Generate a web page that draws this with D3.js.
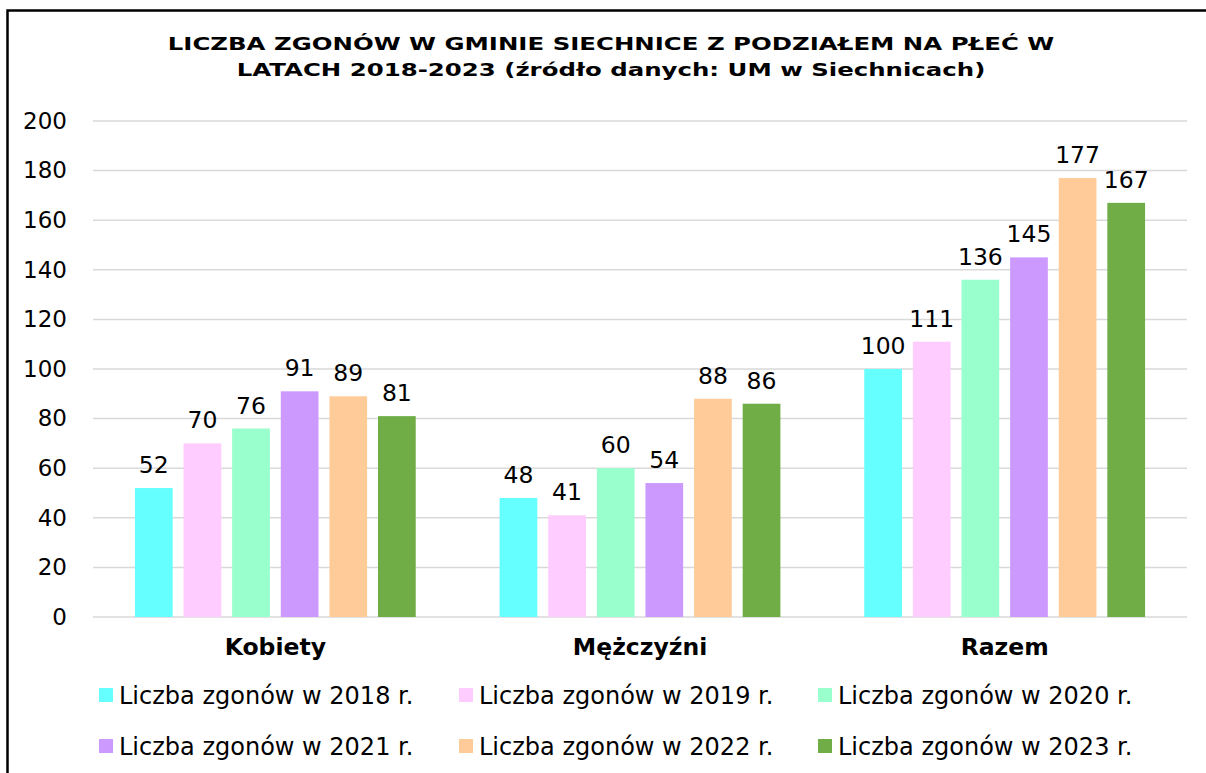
<!DOCTYPE html>
<html>
<head>
<meta charset="utf-8">
<script src="https://cdn.jsdelivr.net/npm/d3@7"></script>
<style>
  html, body { margin: 0; padding: 0; background: #fff; }
  svg { display: block; font-family: "DejaVu Sans", Verdana, sans-serif; }
</style>
</head>
<body>
<svg id="chart" width="1206" height="773"></svg>
<script>
const categories = ["Kobiety", "Mężczyźni", "Razem"];
const seriesNames = ["Liczba zgonów w 2018 r.", "Liczba zgonów w 2019 r.", "Liczba zgonów w 2020 r.",
                     "Liczba zgonów w 2021 r.", "Liczba zgonów w 2022 r.", "Liczba zgonów w 2023 r."];
const values2018 = [52, 48, 100];
const values2019 = [70, 41, 111];
const values2020 = [76, 60, 136];
const values2021 = [91, 54, 145];
const values2022 = [89, 88, 177];
const values2023 = [81, 86, 167];
const seriesColors = ["#66FFFF", "#FFCCFF", "#99FFCC", "#CC99FF", "#FFCC99", "#70AD47"];
const yTicks = [0, 20, 40, 60, 80, 100, 120, 140, 160, 180, 200];
const titleLines = ["LICZBA ZGONÓW W GMINIE SIECHNICE Z PODZIAŁEM NA PŁEĆ W",
                    "LATACH 2018-2023 (źródło danych: UM w Siechnicach)"];

const seriesValues = [values2018, values2019, values2020, values2021, values2022, values2023];
const series = seriesNames.map((name, i) => ({ name, color: seriesColors[i], values: seriesValues[i] }));

const svg = d3.select("#chart");

// outer frame (left and top edges visible)
svg.append("path")
  .attr("d", "M7.5,773 L7.5,10.5 L1206,10.5")
  .attr("fill", "none").attr("stroke", "#000").attr("stroke-width", 2.5);

// title (wide bold face, like Verdana Bold)
svg.append("g").attr("transform", "translate(611,0) scale(1.32,1)")
  .selectAll("text").data(titleLines).join("text")
  .attr("x", 0).attr("y", (d, i) => 50 + i * 26)
  .attr("text-anchor", "middle")
  .attr("font-size", 18.5).attr("font-weight", "bold").attr("fill", "#000")
  .text(d => d);

const plot = { left: 93, right: 1187, top: 121, bottom: 617 };

const y = d3.scaleLinear().domain([0, 200]).range([plot.bottom, plot.top]);
const x0 = d3.scaleBand().domain(categories).range([plot.left, plot.right]).padding(0);
const x1 = d3.scaleBand().domain(seriesNames)
  .range([x0.bandwidth() * 0.115, x0.bandwidth() * 0.885])
  .paddingInner(0.224).paddingOuter(0);

// gridlines
svg.append("g").selectAll("line").data(yTicks).join("line")
  .attr("x1", plot.left).attr("x2", plot.right)
  .attr("y1", d => y(d)).attr("y2", d => y(d))
  .attr("stroke", "#d9d9d9").attr("stroke-width", 1.5);

// y axis labels
const yAxis = d3.axisLeft(y).tickValues(yTicks).tickSize(0).tickPadding(0);
const yg = svg.append("g").attr("transform", `translate(67,0)`).call(yAxis);
yg.select(".domain").remove();
yg.selectAll("text").attr("font-size", 23).attr("fill", "#000")
  .attr("font-family", "DejaVu Sans, Verdana, sans-serif");

// bars
const groups = svg.append("g").selectAll("g").data(categories).join("g")
  .attr("transform", d => `translate(${x0(d)},0)`);

groups.selectAll("rect").data((c, ci) => series.map(s => ({ s, v: s.values[ci] }))).join("rect")
  .attr("x", d => x1(d.s.name))
  .attr("width", x1.bandwidth())
  .attr("y", d => y(d.v))
  .attr("height", d => y(0) - y(d.v))
  .attr("fill", d => d.s.color);

groups.selectAll("text.val").data((c, ci) => series.map(s => ({ s, v: s.values[ci] }))).join("text")
  .attr("class", "val")
  .attr("x", d => x1(d.s.name) + x1.bandwidth() / 2)
  .attr("y", d => y(d.v) - 15)
  .attr("text-anchor", "middle")
  .attr("font-size", 23.5).attr("fill", "#000")
  .text(d => d.v);

// category labels
const xAxis = d3.axisBottom(x0).tickSize(0).tickPadding(0);
const xg = svg.append("g").attr("transform", `translate(0,${plot.bottom})`).call(xAxis);
xg.select(".domain").remove();
xg.selectAll("text").attr("font-size", 23.5).attr("font-weight", "bold").attr("fill", "#000")
  .attr("font-family", "DejaVu Sans, Verdana, sans-serif")
  .attr("dy", null).attr("y", 38);

// legend
const legendCols = [99, 459, 818];
const legend = svg.append("g").selectAll("g").data(series).join("g")
  .attr("transform", (d, i) => `translate(${legendCols[i % 3]},${695 + Math.floor(i / 3) * 51})`);
legend.append("rect").attr("x", 0).attr("y", -7).attr("width", 14).attr("height", 14)
  .attr("fill", d => d.color);
legend.append("text").attr("x", 20).attr("y", 9)
  .attr("font-size", 24).attr("fill", "#000")
  .text(d => d.name);
</script>
</body>
</html>
